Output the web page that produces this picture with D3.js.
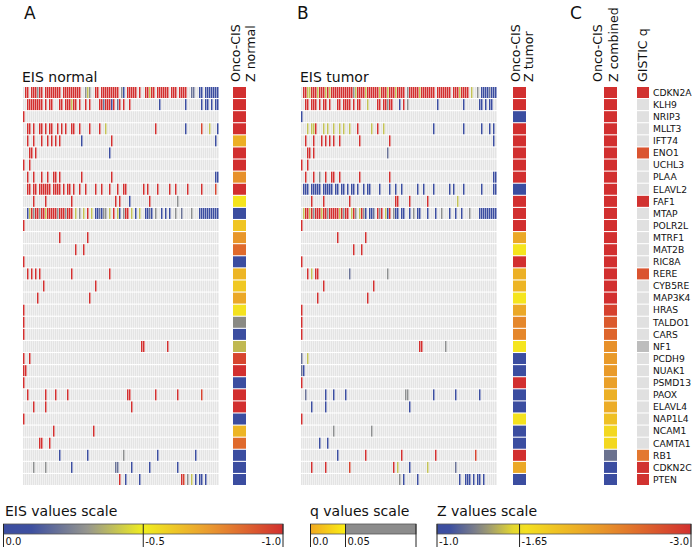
<!DOCTYPE html>
<html><head><meta charset="utf-8">
<script src="https://cdn.jsdelivr.net/npm/d3@7"></script>
<style>body{margin:0;background:#fff}svg{display:block}text{font-family:"DejaVu Sans",sans-serif;fill:#111}</style>
</head><body><svg id="c" width="697" height="551"></svg>
<script>
const genes = ["CDKN2A","KLH9","NRIP3","MLLT3","IFT74","ENO1","UCHL3","PLAA","ELAVL2","FAF1","MTAP","POLR2L","MTRF1","MAT2B","RIC8A","RERE","CYB5RE","MAP3K4","HRAS","TALDO1","CARS","NF1","PCDH9","NUAK1","PSMD13","PAOX","ELAVL4","NAP1L4","NCAM1","CAMTA1","RB1","CDKN2C","PTEN"];
const nSamples = 98;
// EIS value codes used in the row strings ('.' = no value)
const eisCode = {R:-1.0, r:-0.95, y:-0.4, g:-0.28, b:-0.2, B:0.0};
const eisNormal = [
 "RR.RRRgRR.RRRRRRRR.RRRRRRRRR..gyg..RR.RRRRRRRRR.gB.RRRRR.R..RRyRR.RRRRRR.RRR.RRRR..bb..BB.BBBBBBB@1",
 "RRRRRRRR.R.RR...RR.RRRyRR.R..R.R....RRbRRRBR.bR.R..R@2 B@68 B@81 B.BB.B.BB@89",
 "R@0",
 "RR.R..RR.R.RR..R.R.R..RR..R@2 R@33 R@38 y@41 R@66 B@81 r@89 y@93 B@97",
 "R@2 R@5 R@9 R@12 R@14 R@16 R@18 B@29 R@44 B@96",
 "R@3 R@4 R@6 B@43",
 "R@0 R@3",
 "R@2 R@5 R@9 R@12 R@15 R@16 R@18 R@29 R@44 B@96 B@97",
 "RR.RR.RRRRRR.RRRR.R.RR.R..R..R@2 R@36 R@39 R@43 R@47 R@50 R@51 R@60 R@62 R@67 R@73 R@76 R@82 R@89 r@96",
 "R@5 R@11 R@24 R@46 R@48 B@53 R@63 g@77",
 ".ByRgRRgRRyRRRRRgRRRgRRR.y.g.y.R.y.BBbBgg.y.R.yB.gRR.y.B.y..BBbB.g..B.B.B..g..b.@1 g@84 BBBBBBBBBB@88",
 "R@0",
 "R@18 R@32",
 "R@26 R@30",
 "R@0",
 "R@2 R@4 R@6 R@8 R@24 R@43",
 "R@10 R@36",
 "R@7 R@33",
 "R@0",
 "R@0",
 "R@0",
 "RR@59 R@72",
 "R@0 R@3",
 "R@0 R@1",
 "R@0",
 "R@2 R@11 R@16 R@22 R@52 R@53 R@66 R@77 r@89",
 "R@5 R@11 R@54",
 "R@0",
 "R@15 R@35",
 "RR@8 R@13",
 "B@18 B@32 g@50 B@67 B@86",
 "g@5 g@11 B@24 b@46 b@47 B@54 B@63 B@77",
 "R@48 B@51 B@58 R@79 r@80 g@82 y@84 B@86 B@88 B@89 B@91"
];
const eisTumor = [
 "RRyyRRRyRRRyRyRRRRRRRRRRRgyRRRRyRRRRRRyRRRyRRRyRRRR.gRRRRRyRRRRRRR.RRRRRRR.RRRyRRRR.y..g.BBBBbBBB@1",
 "RR.RRR.R.RR.R.@2 RR.RRRR.R.RR@18 y@33 RR.RRgRR@38 B.R.g@49 B@68 B@81 BB.B.BB@89",
 "B@0",
 "y@3 y@5 y@6 R@7 y@11 y@13 y@16 y@19 y@21 y@24 R@28 y@35 R@38 y@41 B@66 B@81 B@90 B@94 B@96",
 "R@2 R@6 R@10 R@12 R@14 R@16 R@19 R@29 R@44 B@96",
 "R@3 R@4 R@6 b@43",
 "R@0 R@3",
 "R@2 R@6 g@9 R@12 R@15 R@16 R@19 R@29 R@44 B@96 B@97",
 "BBB.BBBBB.BBBBB.BB.BB.B.BB.B..B.BB@1 B@39 B@44 B@47 B@50 B@58 B@61 B@66 B@74 B@76 B@81 B@90 B@96 B@97",
 "R@5 R@11 R@24 R@47 R@48 R@54 R@63 y@78",
 "yRRyRgRRRyRRgRRRRRyRgRR.yRg.yRgB.BBb.RgR.yBR.gBB.BB..B.g.BB.@1 B@63 B@67 g@70 B@74 B@77 B@80 g@84 BBBBBBBBB@89",
 "R@0",
 "R@18 R@32",
 "R@26 R@30",
 "R@0",
 "R@3 y@5 R@7 R@8 b@24 g@43",
 "R@11 R@36",
 "R@8 R@33",
 "R@0",
 "R@0",
 "R@0",
 "RR@59 g@72",
 "b@0 y@3",
 "bB@0",
 "R@0",
 "b@2 B@12 B@16 B@22 g@52 g@53 B@66 B@77 B@89",
 "B@5 B@12 B@54",
 "R@0",
 "g@16 g@35",
 "B@9 B@13",
 "B@18 R@32 R@50 R@67 r@87",
 "R@5 R@12 r@24 R@46 y@48 B@54 y@63 b@77",
 "g@49 B@51 B@58 B@79 B@82 B@83 B@84 B@86 B@88 B@89 B@91"
];
const zNormal = [-3.2,-3.2,-3.2,-3.2,-2.1,-3.1,-3.1,-2.34,-3.2,-1.67,-1.0,-1.92,-2.3,-2.6,-1.0,-2.05,-1.89,-2.15,-1.68,-1.35,-1.05,-1.5,-2.85,-3.1,-1.0,-3.1,-3.1,-1.0,-2.05,-2.6,-1.0,-1.0,-1.0];
const zTumor = [-3.2,-3.2,-1.0,-3.2,-3.2,-3.2,-3.2,-3.2,-1.0,-3.2,-3.2,-3.1,-2.15,-1.66,-3.1,-2.09,-2.05,-1.66,-2.15,-2.4,-2.4,-1.66,-1.0,-1.0,-3.1,-1.0,-1.0,-1.68,-1.0,-1.0,-3.1,-2.15,-1.0];
const zCombined = [-3.2,-3.2,-3.2,-3.2,-3.2,-3.2,-3.2,-3.2,-3.2,-3.2,-3.2,-3.2,-3.2,-3.2,-3.2,-3.2,-3.2,-3.1,-2.88,-2.71,-2.63,-2.34,-2.27,-2.27,-2.22,-2.09,-2.12,-1.96,-1.76,-1.76,-1.25,-1.0,-1.0];
const gisticQ = [0.001,null,null,null,null,0.015,null,null,null,0.001,null,null,null,null,null,0.015,null,null,null,null,null,0.2,null,null,null,null,null,null,null,null,0.03,0.001,0.001];
const eisTicks = [0.0,-0.5,-1.0], eisTickLabels = ["0.0","-0.5","-1.0"];
const qTicks = [0.0,0.05], qTickLabels = ["0.0","0.05"];
const zTicks = [-1.0,-1.65,-3.0], zTickLabels = ["-1.0","-1.65","-3.0"];

const svg = d3.select("#c");
const defs = svg.append("defs");
const eisColor = d3.scaleLinear().domain([0,-0.1,-0.3,-0.5,-0.72,-1.0])
  .range(["#3b4da0","#3e50a0","#96968e","#f0ee1e","#eba030","#d22f2f"]).clamp(true);
const zColor = d3.scaleLinear().domain([-1.0,-1.1,-1.35,-1.65,-2.3,-3.0])
  .range(["#3b4da0","#3d4fa0","#8a8a84","#f5e61e","#e8962a","#d22f2f"]).clamp(true);
const qLegendColor = d3.scaleLinear().domain([0,0.05]).range(["#f0a820","#fbee14"]);
const qCellColor = q => q==null ? "#e0e0e0" : (q>0.05 ? "#bdbdbd" : d3.interpolateRgb("#d03030","#f0a830")(q/0.05));

const y = d3.scaleBand().domain(genes).range([87,485]).paddingInner(0.09);

function parseRow(spec){
  const arr = new Array(nSamples).fill(null);
  spec.split(" ").forEach(tok=>{
    const [s,c] = tok.split("@"); const st = +c;
    for(let i=0;i<s.length;i++){const k=st+i; if(k<nSamples && s[i]!==".") arr[k]=eisCode[s[i]];}
  });
  return arr;
}
function heatmap(rows,x0,x1){
  const x = d3.scaleBand().domain(d3.range(nSamples)).range([x0,x1]);
  const g = svg.append("g");
  rows.forEach((spec,ri)=>{
    const vals = parseRow(spec);
    g.append("g").selectAll("rect").data(vals).join("rect")
      .attr("x",(d,i)=>x(i)).attr("y",y(genes[ri]))
      .attr("width",x.bandwidth()-0.5).attr("height",y.bandwidth())
      .attr("fill",d=>d==null?"#e4e4e4":eisColor(d));
  });
}
function column(vals,x0,w,colorFn){
  svg.append("g").selectAll("rect").data(vals).join("rect")
    .attr("x",x0).attr("y",(d,i)=>y(genes[i])).attr("width",w).attr("height",y.bandwidth())
    .attr("fill",colorFn);
}
function vlabel(lines,xs,yb,size){
  lines.forEach((t,i)=>svg.append("text").attr("transform",`translate(${xs[i]},${yb}) rotate(-90)`)
    .attr("font-size",size).text(t));
}

heatmap(eisNormal,23,219);
heatmap(eisTumor,301,497);
column(zNormal,233,13,d=>zColor(d));
column(zTumor,513,13,d=>zColor(d));
column(zCombined,604,13,d=>zColor(d));
column(gisticQ,637,12,d=>qCellColor(d));

svg.append("g").selectAll("text").data(genes).join("text")
  .attr("x",653).attr("y",d=>y(d)+y.bandwidth()/2).attr("dy","0.36em")
  .attr("font-size",9.2).text(d=>d);

// titles
[["A",24],["B",297],["C",570]].forEach(([t,x])=>svg.append("text").attr("x",x).attr("y",18.5).attr("font-size",17).text(t));
svg.append("text").attr("x",22).attr("y",82).attr("font-size",14).text("EIS normal");
svg.append("text").attr("x",300).attr("y",82).attr("font-size",14).text("EIS tumor");
vlabel(["Onco-CIS","Z normal"],[240,255],82,12.6);
vlabel(["Onco-CIS","Z tumor"],[520,533],82,12.6);
vlabel(["Onco-CIS","Z combined"],[602,618],82,12.6);
vlabel(["GISTIC q"],[647],82,12.6);

// legends
function gradient(id,scale,d0,d1){
  const gr = defs.append("linearGradient").attr("id",id).attr("x1","0%").attr("x2","100%");
  d3.range(0,1.0001,0.05).forEach(t=>gr.append("stop").attr("offset",(t*100)+"%").attr("stop-color",scale(d0+(d1-d0)*t)));
}
const barTop=524, barH=10, tickBottom=547, labY=545;
function legend(title,tx,scale,ticks,labels,fillFn,anchors){
  svg.append("text").attr("x",tx).attr("y",516).attr("font-size",14).text(title);
  fillFn();
  ticks.forEach((t,i)=>{
    svg.append("line").attr("x1",scale(t)).attr("x2",scale(t)).attr("y1",barTop).attr("y2",tickBottom)
      .attr("stroke","#222").attr("stroke-width",1);
    const a = anchors[i];
    svg.append("text").attr("x",scale(t)+(a==="end"?-2:2)).attr("y",labY).attr("font-size",10)
      .attr("text-anchor",a).text(labels[i]);
  });
}
const eisX = d3.scaleLinear().domain([0,-1]).range([3.5,283]);
gradient("gEIS",eisColor,0,-1);
legend("EIS values scale",5,eisX,eisTicks,eisTickLabels,()=>{
  svg.append("rect").attr("x",eisX(0)).attr("y",barTop).attr("width",eisX(-1)-eisX(0)).attr("height",barH)
    .attr("fill","url(#gEIS)").attr("stroke","#555").attr("stroke-width",0.8);
},["start","start","end"]);

const qX = d3.scaleLinear().domain([0,0.05]).range([310.5,345.5]);
gradient("gQ",qLegendColor,0,0.05);
legend("q values scale",310,qX,qTicks,qTickLabels,()=>{
  svg.append("rect").attr("x",qX(0.05)).attr("y",barTop).attr("width",416-qX(0.05)).attr("height",barH).attr("fill","#8c8c8c");
  svg.append("rect").attr("x",qX(0)).attr("y",barTop).attr("width",qX(0.05)-qX(0)).attr("height",barH).attr("fill","url(#gQ)");
  svg.append("rect").attr("x",qX(0)).attr("y",barTop).attr("width",416-qX(0)).attr("height",barH)
    .attr("fill","none").attr("stroke","#555").attr("stroke-width",0.8);
  svg.append("line").attr("x1",416).attr("x2",416).attr("y1",barTop).attr("y2",tickBottom).attr("stroke","#222");
},["start","start"]);

const zX = d3.scaleLinear().domain([-1,-3]).range([437,691]);
gradient("gZ",zColor,-1,-3);
legend("Z values scale",437,zX,zTicks,zTickLabels,()=>{
  svg.append("rect").attr("x",zX(-1)).attr("y",barTop).attr("width",zX(-3)-zX(-1)).attr("height",barH)
    .attr("fill","url(#gZ)").attr("stroke","#555").attr("stroke-width",0.8);
},["start","start","end"]);
</script></body></html>
